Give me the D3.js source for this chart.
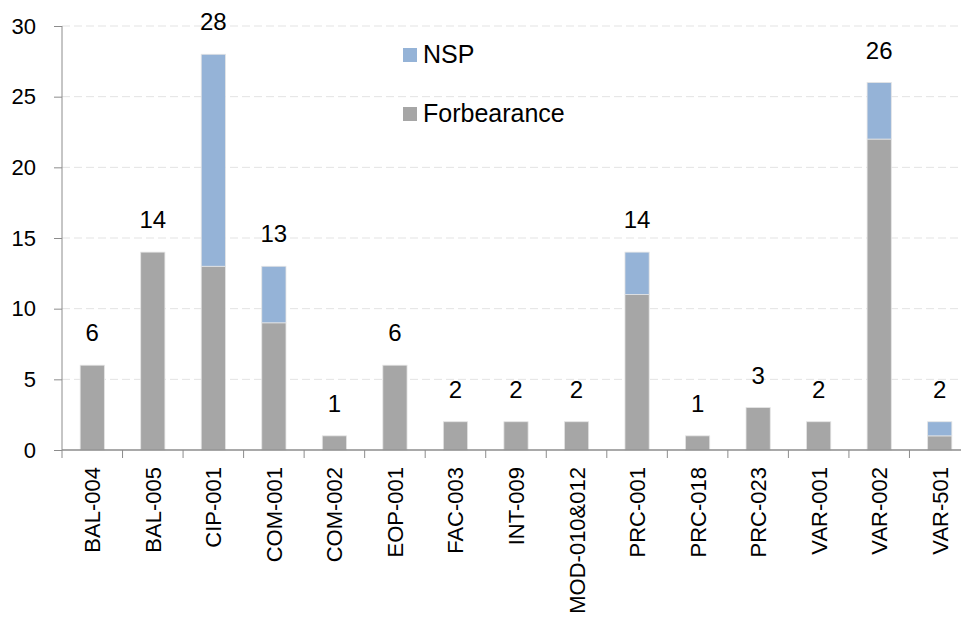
<!DOCTYPE html>
<html>
<head>
<meta charset="utf-8">
<script src="https://cdn.jsdelivr.net/npm/d3@7"></script>
<style>
  body { margin: 0; background: #fff; }
  svg { font-family: "Liberation Sans", Arial, sans-serif; }
</style>
</head>
<body>
<div id="chart"></div>
<script>
  var categories = ["BAL-004", "BAL-005", "CIP-001", "COM-001", "COM-002", "EOP-001", "FAC-003",
    "INT-009", "MOD-010&012", "PRC-001", "PRC-018", "PRC-023", "VAR-001", "VAR-002", "VAR-501"];
  var forbearance = [6, 14, 13, 9, 1, 6, 2, 2, 2, 11, 1, 3, 2, 22, 1];
  var nsp = [0, 0, 15, 4, 0, 0, 0, 0, 0, 3, 0, 0, 0, 4, 1];
  var yTicks = [0, 5, 10, 15, 20, 25, 30];
  var seriesNames = ["NSP", "Forbearance"];
  var colors = {NSP: "#95b3d7", Forbearance: "#a6a6a6"};

  var W = 961, H = 628;
  var margin = {top: 26, right: -9, bottom: 178, left: 62},
      width = W - margin.left - margin.right,
      height = H - margin.top - margin.bottom;

  var rows = categories.map(function(c, i) {
    return {cat: c, Forbearance: forbearance[i], NSP: nsp[i]};
  });

  var x = d3.scaleBand()
      .domain(categories)
      .range([0, width])
      .paddingInner(0.6)
      .paddingOuter(0.3);

  var y = d3.scaleLinear()
      .domain([0, 30])
      .range([height, 0]);

  var stack = d3.stack().keys(["Forbearance", "NSP"])(rows);

  var svg = d3.select("#chart").append("svg")
      .attr("width", W)
      .attr("height", H)
    .append("g")
      .attr("transform", "translate(" + margin.left + "," + margin.top + ")");

  // gridlines
  svg.append("g")
    .selectAll("line")
    .data(yTicks.filter(function(d) { return d > 0; }))
    .enter().append("line")
      .attr("x1", 0)
      .attr("x2", width)
      .attr("y1", function(d) { return y(d); })
      .attr("y2", function(d) { return y(d); })
      .attr("stroke", "#e3e3e3")
      .attr("stroke-width", 1)
      .attr("stroke-dasharray", "8,4");

  // bars
  svg.append("g")
    .selectAll("g")
    .data(stack)
    .enter().append("g")
      .attr("fill", function(d) { return colors[d.key]; })
    .selectAll("rect")
    .data(function(d) { return d.filter(function(p) { return p[1] > p[0]; }); })
    .enter().append("rect")
      .attr("x", function(d) { return x(d.data.cat); })
      .attr("y", function(d) { return y(d[1]); })
      .attr("width", x.bandwidth())
      .attr("height", function(d) { return y(d[0]) - y(d[1]); })
      .attr("stroke", "#e4e4e4")
      .attr("stroke-width", 0.8);

  // totals
  svg.append("g")
    .selectAll("text")
    .data(rows)
    .enter().append("text")
      .attr("x", function(d) { return x(d.cat) + x.bandwidth() / 2; })
      .attr("y", function(d) { return y(d.Forbearance + d.NSP) - 24; })
      .attr("text-anchor", "middle")
      .attr("font-size", "24px")
      .attr("fill", "#000")
      .text(function(d) { return d.Forbearance + d.NSP; });

  // y axis
  var yAxis = svg.append("g")
      .call(d3.axisLeft(y).tickValues(yTicks).tickSize(8).tickPadding(18));
  yAxis.select(".domain").attr("stroke", "#8c8c8c").attr("d", "M0," + y(0) + "V" + y(30));
  yAxis.selectAll(".tick line").attr("stroke", "#8c8c8c");
  yAxis.selectAll(".tick text")
      .attr("font-size", "22px")
      .attr("font-family", "Liberation Sans, Arial, sans-serif")
      .attr("fill", "#000");

  // x axis
  var xg = svg.append("g").attr("transform", "translate(0," + height + ")");
  xg.append("line")
      .attr("x1", 0).attr("x2", width)
      .attr("stroke", "#8c8c8c").attr("stroke-width", 1.5);
  var half = x.step() * x.paddingInner() / 2;
  xg.selectAll(".xt")
    .data(categories)
    .enter().append("line")
      .attr("class", "xt")
      .attr("x1", function(d) { return x(d) - half; })
      .attr("x2", function(d) { return x(d) - half; })
      .attr("y1", 0).attr("y2", 8)
      .attr("stroke", "#8c8c8c");
  xg.selectAll(".xl")
    .data(categories)
    .enter().append("text")
      .attr("class", "xl")
      .attr("transform", function(d) {
        return "translate(" + (x(d) + x.bandwidth() / 2 + 8) + ",17) rotate(-90)";
      })
      .attr("text-anchor", "end")
      .attr("font-size", "22px")
      .attr("fill", "#000")
      .text(function(d) { return d; });

  // legend
  var legend = svg.append("g")
      .attr("transform", "translate(341,22)");
  var li = legend.selectAll("g")
    .data(seriesNames)
    .enter().append("g")
      .attr("transform", function(d, i) { return "translate(0," + (i * 59) + ")"; });
  li.append("rect")
      .attr("width", 14).attr("height", 14)
      .attr("fill", function(d) { return colors[d]; });
  li.append("text")
      .attr("x", 20)
      .attr("y", 15)
      .attr("font-size", "25px")
      .attr("fill", "#000")
      .text(function(d) { return d; });
</script>
</body>
</html>
